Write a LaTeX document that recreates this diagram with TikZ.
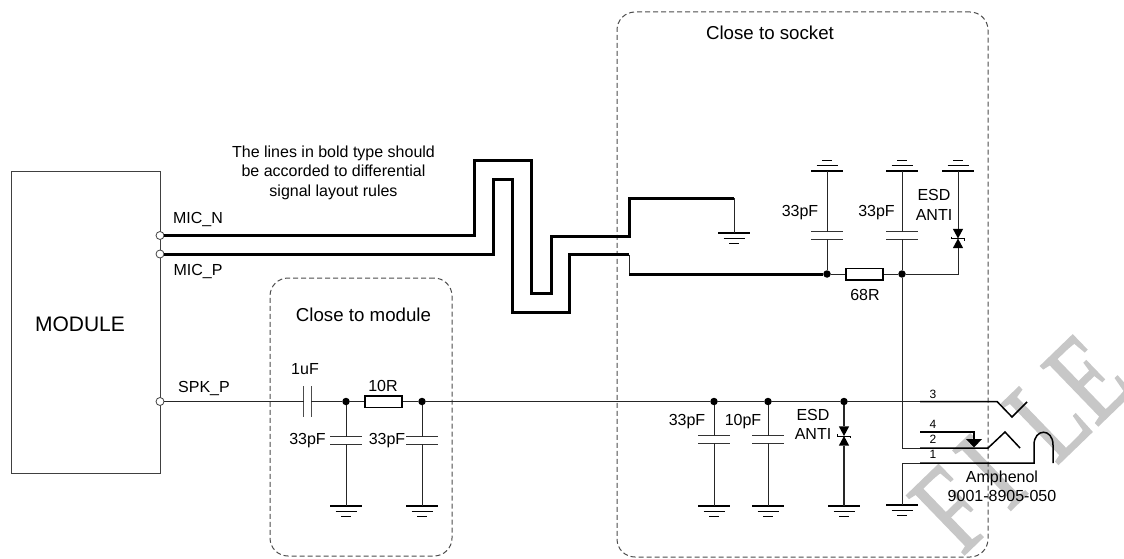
\documentclass[tikz,border=0pt]{standalone}
\usepackage{fontspec}
\setmainfont{Liberation Sans}
\newfontfamily\wmfont[FakeBold=1.5]{Liberation Serif}
\newcommand{\fsz}[1]{\fontsize{#1}{#1}\selectfont}
\newcommand{\fszb}[2]{\fontsize{#1}{#2}\selectfont}
\usetikzlibrary{calc}
\tikzset{
  wire/.style={line width=1pt,draw=black!85},
  midwire/.style={line width=1.5pt,draw=black},
  bold/.style={line width=3pt,draw=black,line join=miter},
  zone/.style={draw=black!70,line width=1pt,dash pattern=on 5pt off 3pt,rounded corners=18pt,rectangle,inner sep=0pt},
  dot/.style={circle,fill=black,draw=none,minimum size=7.5pt,inner sep=0pt},
  pinc/.style={circle,fill=white,draw=black!75,line width=.8pt,minimum size=8pt,inner sep=0pt},
  res/.style={rectangle,draw=black,fill=white,line width=1.5pt,minimum width=37pt,minimum height=11.5pt,inner sep=0pt},
  lab/.style={inner sep=0pt,font=\fsz{16}},
  small/.style={inner sep=0pt,font=\fsz{12}},
  capv/.style={rectangle,minimum width=31pt,minimum height=7pt,inner sep=0pt},
  caph/.style={rectangle,minimum width=7pt,minimum height=30pt,inner sep=0pt},
  tvs/.style={rectangle,minimum width=10pt,minimum height=19pt,inner sep=0pt}
}
\newcommand{\capV}[3]{\node[capv] (#1) at (#2,#3) {};
  \draw[line width=1pt,draw=black!80] (#1.north west) -- (#1.north east) (#1.south west) -- (#1.south east);}
\newcommand{\capH}[3]{\node[caph] (#1) at (#2,#3) {};
  \draw[line width=1.2pt,draw=black!70] (#1.north west) -- (#1.south west) (#1.north east) -- (#1.south east);}
\newcommand{\tvsD}[3]{\node[tvs] (#1) at (#2,#3) {};
  \fill[black] (#1.north west) -- (#1.north east) -- (#1.center) -- cycle;
  \fill[black] (#1.south west) -- (#1.south east) -- (#1.center) -- cycle;
  \draw[line width=.8pt] ([xshift=-1pt,yshift=2pt]#1.west) -- ([xshift=-1pt]#1.west) -- ([xshift=1pt]#1.east) -- ([xshift=1pt,yshift=-2pt]#1.east);}
% ground: #1 name, #2 x, #3 y, #4 direction (+1 symbol below the point, -1 above)
\newcommand{\gnd}[4]{\coordinate (#1) at (#2,#3);
  \draw[line width=1.6pt] ($(#1)+(-16,0)$) -- ($(#1)+(16,0)$);
  \draw[line width=1.4pt] ($(#1)+(-10.5,#4*5.5)$) -- ($(#1)+(10.5,#4*5.5)$);
  \draw[line width=1.4pt] ($(#1)+(-5,#4*10.5)$) -- ($(#1)+(5,#4*10.5)$);}
\begin{document}
\begin{tikzpicture}[x=1pt,y=-1pt]
\useasboundingbox (0,0) rectangle (1124,559);
% watermark
\begin{scope}
\clip (0,0) rectangle (1124,559);
\node[anchor=base west,rotate=44,inner sep=0pt,text=black!22,font=\wmfont\fsz{126}] (wm) at (962,557) {\scalebox{0.72}[1]{F\kern19ptI\kern51ptLE}};
\end{scope}
% zones
\node[zone,minimum width=371pt,minimum height=545pt] (socket) at (802.5,284.5) {};
\node[zone,minimum width=182pt,minimum height=278pt] (modzone) at (361,417) {};
% module
\node[rectangle,draw=black!75,line width=1pt,minimum width=149pt,minimum height=302pt,inner sep=0pt] (module) at (85.5,322) {};
\node[inner sep=0pt,font=\fsz{21}] (modt) at (80,324) {MODULE};
\node[pinc] (pinN) at (160,235.5) {};
\node[pinc] (pinP) at (160,254) {};
\node[pinc] (pinS) at (160,401.5) {};
% bends
\coordinate (n1) at (474,235.5); \coordinate (n2) at (474,160); \coordinate (n3) at (531,160);
\coordinate (n4) at (531,293); \coordinate (n5) at (551,293); \coordinate (n6) at (551,236);
\coordinate (n7) at (629,236); \coordinate (n8) at (629,198); \coordinate (n9) at (734,198);
\coordinate (p1) at (493,254); \coordinate (p2) at (493,179); \coordinate (p3) at (512,179);
\coordinate (p4) at (512,312); \coordinate (p5) at (569,312); \coordinate (p6) at (569,254.5);
\coordinate (p7) at (629,254.5); \coordinate (p8) at (629,274);
% junctions
\node[dot] (j1) at (827,274) {};
\node[dot] (j2) at (902,274) {};
\node[dot] (j3) at (346,401.5) {};
\node[dot] (j4) at (422,401.5) {};
\node[dot] (j5) at (714,401.5) {};
\node[dot] (j6) at (768,401.5) {};
\node[dot] (j7) at (844,401.5) {};
% parts
\capV{c1}{827}{235.5} \capV{c2}{902}{235.5}
\capV{c3}{346}{440.5} \capV{c4}{422}{440.5}
\capV{c5}{714}{439.5} \capV{c6}{768}{439.5}
\capH{c7}{307.5}{401.5}
\tvsD{d1}{958}{238.5} \tvsD{d2}{844}{436}
\gnd{g1}{734}{233}{1}
\gnd{g2}{827}{171}{-1} \gnd{g3}{902}{171}{-1} \gnd{g4}{958}{171}{-1}
\gnd{g5}{346}{506}{1} \gnd{g6}{422}{506}{1}
\gnd{g7}{714}{506}{1} \gnd{g8}{768}{506}{1} \gnd{g9}{844}{506}{1}
\gnd{g10}{902}{505}{1}
% wires
\draw[bold] (pinN) -- (n1) -- (n2) -- (n3) -- (n4) -- (n5) -- (n6) -- (n7) -- (n8) -- (n9);
\draw[bold] (pinP) -- (p1) -- (p2) -- (p3) -- (p4) -- (p5) -- (p6) -- (p7);
\draw[wire] (p7) -- (p8);
\draw[bold] (p8) -- (j1);
\draw[wire] (n9) -- (g1);
\node[res] (r1) at (864.5,274) {};
\node[res] (r2) at (383.5,401.5) {};
\coordinate (e1) at (958,274);
\draw[wire] (j1) -- (r1) (r1) -- (j2) (j2) -- (e1) -- (d1.south);
\draw[wire] (d1.north) -- (g4);
\draw[wire] (j1) -- (c1.south) (c1.north) -- (g2);
\draw[wire] (j2) -- (c2.south) (c2.north) -- (g3);
% speaker line
\coordinate (t3) at (920,401.5); \coordinate (t3a) at (997,401.5);
\coordinate (t3b) at (1012,417); \coordinate (t3c) at (1027,402);
\draw[wire] (pinS) -- (c7.west) (c7.east) -- (j3) (j3) -- (r2) (r2) -- (j4) (j4) -- (j5) -- (j6) -- (j7) -- (t3);
\draw[midwire] (t3) -- (t3a) -- (t3b) -- (t3c);
\draw[wire] (j3) -- (c3.north) (c3.south) -- (g5);
\draw[wire] (j4) -- (c4.north) (c4.south) -- (g6);
\draw[wire] (j5) -- (c5.north) (c5.south) -- (g7);
\draw[wire] (j6) -- (c6.north) (c6.south) -- (g8);
\draw[wire,line width=1.5pt] (j7) -- (d2.north) (d2.south) -- (g9);
% jack
\coordinate (b2) at (902,448); \coordinate (t2) at (920,448); \coordinate (t2a) at (988,448);
\coordinate (t2b) at (1005,432); \coordinate (t2c) at (1020,448);
\draw[wire] (j2) -- (b2) -- (t2);
\draw[midwire] (t2) -- (t2a) -- (t2b) -- (t2c);
\coordinate (t4) at (920,432); \coordinate (t4a) at (974,432); \coordinate (t4b) at (974,439);
\draw[midwire] (t4) -- (t4a) -- (t4b);
\fill[black] (966,439) -- (982,439) -- (974,447.5) -- cycle;
\coordinate (b1) at (902,463); \coordinate (t1) at (920,463); \coordinate (t1a) at (1034,463);
\coordinate (t1b) at (1034,445); \coordinate (t1c) at (1053,445); \coordinate (t1d) at (1053,463);
\draw[wire] (g10) -- (b1) -- (t1);
\draw[midwire] (t1) -- (t1a) -- (t1b) .. controls (1034,428) and (1053,428) .. (t1c) -- (t1d);
% labels
\node[inner sep=0pt,align=center,font=\fszb{16}{19.5}] (note) at (333.5,172.5) {The lines in bold type should\\be accorded to differential\\signal layout rules};
\node[lab] (lN) at (198,220) {MIC\_N};
\node[lab] (lP) at (198,272) {MIC\_P};
\node[lab] (lS) at (204,389) {SPK\_P};
\node[inner sep=0pt,font=\fsz{18.7}] (zs) at (770,33) {Close to socket};
\node[inner sep=0pt,font=\fsz{18.7}] (zm) at (363.5,314.5) {Close to module};
\node[lab] (t1uF) at (305,369) {1uF};
\node[lab] (t10R) at (383,386) {10R};
\node[lab] (t68R) at (865,295) {68R};
\node[lab] (a1) at (800,213) {33pF};
\node[lab] (a2) at (876.5,213) {33pF};
\node[lab] (a3) at (307.5,441) {33pF};
\node[lab] (a4) at (387,441) {33pF};
\node[lab] (a5) at (687,422) {33pF};
\node[lab] (a6) at (743,422) {10pF};
\node[inner sep=0pt,align=center,font=\fszb{16}{20}] (esd1) at (934,205) {ESD\\ANTI};
\node[inner sep=0pt,align=center,font=\fszb{16}{19}] (esd2) at (813,424.5) {ESD\\ANTI};
\node[small] (n3l) at (933,394) {3};
\node[small] (n4l) at (933,424) {4};
\node[small] (n2l) at (933,439.5) {2};
\node[small] (n1l) at (933,454) {1};
\node[inner sep=0pt,align=center,font=\fszb{16}{19}] (amp) at (1002,486.5) {Amphenol\\9001-8905-050};
\end{tikzpicture}
\end{document}
